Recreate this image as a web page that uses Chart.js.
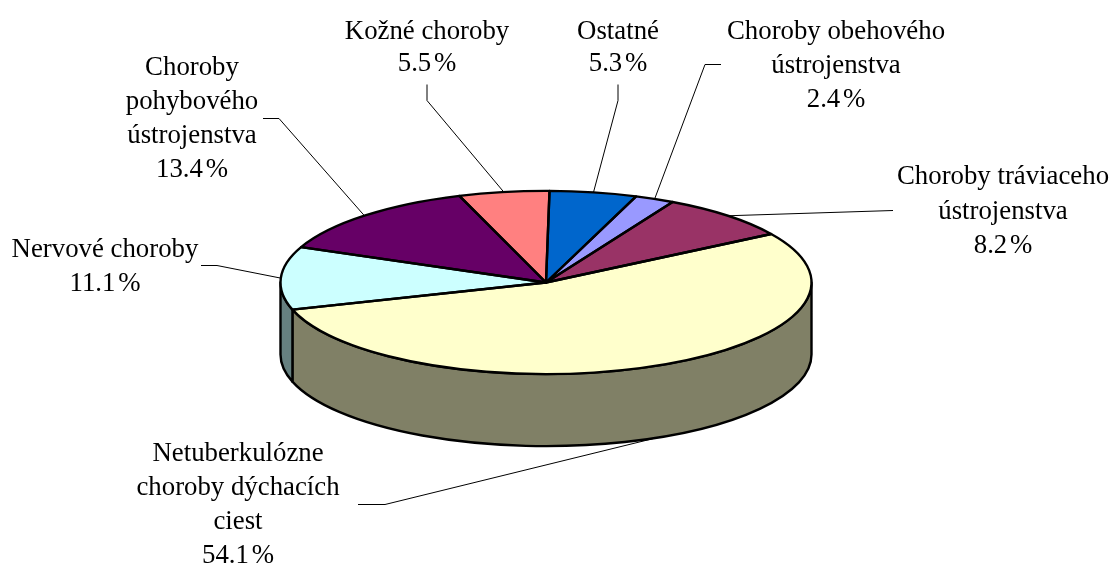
<!DOCTYPE html>
<html>
<head>
<meta charset="utf-8">
<script src="https://cdn.jsdelivr.net/npm/chart.js@4"></script>
<style>
html, body { margin: 0; background: #fff; }
canvas { display: block; }
</style>
</head>
<body>
<canvas id="pie" width="1111" height="565"></canvas>
<script>
const categories = [
    ['Netuberkulózne', 'choroby dýchacích', 'ciest'],
    ['Nervové choroby'],
    ['Choroby', 'pohybového', 'ústrojenstva'],
    ['Kožné choroby'],
    ['Ostatné'],
    ['Choroby obehového', 'ústrojenstva'],
    ['Choroby tráviaceho', 'ústrojenstva']
];
const values = [54.1, 11.1, 13.4, 5.5, 5.3, 2.4, 8.2];
const topColors = ['#FFFFCC', '#CCFFFF', '#660066', '#FF8080', '#0066CC', '#9999FF', '#993366'];
const sideColors = ['#808066', '#668080', '#330033', '#804040', '#003366', '#4D4D80', '#4D1A33'];

// label placement: text centre, first baseline, line step, leader elbow and leader start
const labelCenters = [238, 105, 192, 427, 618, 836, 1003];
const labelBaselines = [461, 257, 75, 39, 39, 39, 184];
const labelSteps = [34, 34, 34, 32, 32, 34, 34.5];
const leaderElbows = [[385, 504], [217, 265], [279, 118], [427, 100], [618, 100], [705, 64], [893, 210]];
const leaderStarts = [[358, 504], [201, 265], [263, 118], [427, 84], [618, 84], [721, 64], [893, 210]];

const squash = 0.345;
const depth = 72;

function arcList(chart) {
    return chart.getDatasetMeta(0).data;
}

// visible part of the rim, angles in canvas radians
function frontRange(arc) {
    let a = arc.startAngle;
    let b = arc.endAngle;
    while (b <= 0) { a += Math.PI * 2; b += Math.PI * 2; }
    return [Math.max(a, 0), Math.min(b, Math.PI)];
}

const tiltPlugin = {
    id: 'tilt',
    beforeDatasetsDraw(chart) {
        const ctx = chart.ctx;
        ctx.lineWidth = 2.4;
        ctx.strokeStyle = '#000';
        ctx.lineJoin = 'round';
        arcList(chart).forEach((arc, i) => {
            const [a, b] = frontRange(arc);
            if (b <= a) return;
            const r = arc.outerRadius;
            const ry = r * squash;
            ctx.beginPath();
            ctx.ellipse(arc.x, arc.y, r, ry, 0, a, b);
            ctx.ellipse(arc.x, arc.y + depth, r, ry, 0, b, a, true);
            ctx.closePath();
            ctx.fillStyle = sideColors[i];
            ctx.fill();
            ctx.stroke();
        });
        const first = arcList(chart)[0];
        ctx.save();
        ctx.translate(first.x, first.y);
        ctx.scale(1, squash);
        ctx.translate(-first.x, -first.y);
    },
    afterDatasetsDraw(chart) {
        const ctx = chart.ctx;
        ctx.restore();

        ctx.lineWidth = 2.4;
        ctx.strokeStyle = '#000';
        arcList(chart).forEach(arc => {
            const r = arc.outerRadius;
            ctx.beginPath();
            ctx.moveTo(arc.x, arc.y);
            ctx.ellipse(arc.x, arc.y, r, r * squash, 0, arc.startAngle, arc.endAngle);
            ctx.closePath();
            ctx.stroke();
        });

        ctx.font = '26.8px "Liberation Serif"';
        ctx.textAlign = 'center';
        ctx.textBaseline = 'alphabetic';
        arcList(chart).forEach((arc, i) => {
            const mid = (arc.startAngle + arc.endAngle) / 2;
            const r = arc.outerRadius;
            const sin = Math.sin(mid);
            const endX = arc.x + r * Math.cos(mid);
            const endY = arc.y + r * squash * sin + (sin > 0.3 ? depth : 0);

            ctx.lineWidth = 1;
            ctx.strokeStyle = '#000';
            ctx.beginPath();
            ctx.moveTo(leaderStarts[i][0], leaderStarts[i][1] + 0.5);
            ctx.lineTo(leaderElbows[i][0], leaderElbows[i][1] + 0.5);
            ctx.lineTo(endX, endY);
            ctx.stroke();

            ctx.fillStyle = '#000';
            categories[i].forEach((line, n) => {
                ctx.fillText(line, labelCenters[i], labelBaselines[i] + n * labelSteps[i]);
            });
            // the percent line has a narrow gap before the sign
            ctx.wordSpacing = '-4px';
            ctx.fillText(values[i].toFixed(1) + ' %', labelCenters[i], labelBaselines[i] + categories[i].length * labelSteps[i]);
            ctx.wordSpacing = '0px';
        });
    }
};

new Chart(document.getElementById('pie'), {
    type: 'pie',
    data: {
        labels: categories.map(c => c.join(' ')),
        datasets: [{
            data: values,
            backgroundColor: topColors,
            borderWidth: 0
        }]
    },
    options: {
        responsive: false,
        animation: false,
        rotation: 58,
        radius: 265.5,
        layout: { padding: { right: 19 } },
        plugins: {
            legend: { display: false },
            tooltip: { enabled: false }
        }
    },
    plugins: [tiltPlugin]
});
</script>
</body>
</html>
